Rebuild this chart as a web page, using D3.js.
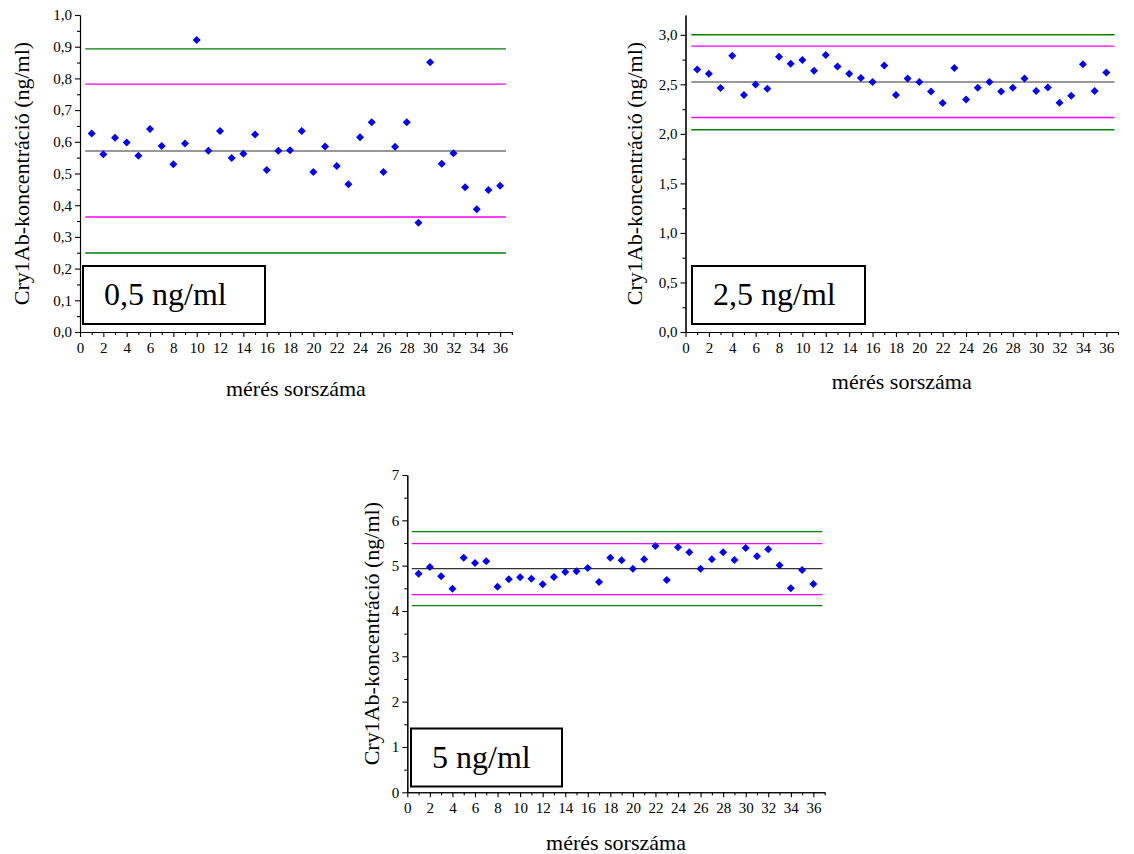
<!DOCTYPE html>
<meta charset="utf-8">
<script src="https://d3js.org/d3.v7.min.js"></script>
<style>
  body { margin: 0; background: #fff; }
  svg text { font-family: "Liberation Serif", Tinos, "Times New Roman", Times, "DejaVu Serif", serif; fill: #000; }
  .axis path, .axis line { stroke: #000; stroke-width: 1.1px; }
  .axis text { font-size: 15px; }
</style>
<div id="chart"></div>
<script>
  // measurement number (mérés sorszáma)
  var runs = [1, 2, 3, 4, 5, 6, 7, 8, 9, 10, 11, 12, 13, 14, 15, 16, 17, 18,
              19, 20, 21, 22, 23, 24, 25, 26, 27, 28, 29, 30, 31, 32, 33, 34, 35, 36];

  // measured Cry1Ab concentration, ng/ml
  var values05 = [0.626, 0.561, 0.613, 0.598, 0.556, 0.640, 0.587, 0.529, 0.595, 0.921,
                  0.572, 0.634, 0.549, 0.562, 0.623, 0.511, 0.572, 0.573, 0.634, 0.505,
                  0.585, 0.524, 0.466, 0.614, 0.662, 0.505, 0.584, 0.662, 0.345, 0.851,
                  0.531, 0.564, 0.457, 0.387, 0.448, 0.461];
  var values25 = [2.650, 2.607, 2.462, 2.788, 2.392, 2.499, 2.455, 2.778, 2.708, 2.745,
                  2.637, 2.795, 2.681, 2.607, 2.563, 2.523, 2.691, 2.392, 2.560, 2.523,
                  2.429, 2.311, 2.664, 2.348, 2.466, 2.523, 2.429, 2.466, 2.560, 2.432,
                  2.469, 2.314, 2.385, 2.704, 2.432, 2.620];
  var values5 = [4.824, 4.971, 4.765, 4.493, 5.176, 5.059, 5.096, 4.537, 4.699, 4.743,
                 4.713, 4.588, 4.750, 4.860, 4.875, 4.949, 4.640, 5.176, 5.118, 4.934,
                 5.140, 5.434, 4.684, 5.404, 5.294, 4.934, 5.140, 5.294, 5.125, 5.390,
                 5.206, 5.360, 5.007, 4.500, 4.904, 4.596];

  // control lines: [lower green, lower magenta, mean, upper magenta, upper green]
  var limits05 = [0.249, 0.363, 0.571, 0.782, 0.893];
  var limits25 = [2.042, 2.166, 2.523, 2.886, 3.000];
  var limits5 = [4.118, 4.360, 4.934, 5.485, 5.750];
  var limitColors = ["#008000", "#ff00ff", "#333333", "#ff00ff", "#008000"];

  var labels = ["0,5 ng/ml", "2,5 ng/ml", "5 ng/ml"];
  var xTitle = "mérés sorszáma";
  var yTitle = "Cry1Ab-koncentráció (ng/ml)";

  var svg = d3.select("#chart").append("svg")
    .attr("width", 1134)
    .attr("height", 854);

  var fmt = function (d) { return d.toString().replace(".", ","); };

  var panels = [
    { left: 80, top: 15, bottom: 332, xPx: 11.67, yMax: 1.0, yMajor: 0.1, yDec: 1,
      values: values05, limits: limits05, label: labels[0],
      lineX: [0.45, 36.5], box: [83, 266, 182, 58], textX: 104, textY: 305,
      yTitleX: 21, xTitleY: 388 },
    { left: 685.5, top: 15, bottom: 332, xPx: 11.69, yMax: 3.2, yMajor: 0.5, yDec: 1,
      values: values25, limits: limits25, label: labels[1],
      lineX: [0.5, 36.7], box: [692, 266, 173, 58], textX: 713, textY: 305,
      yTitleX: 634, xTitleY: 381 },
    { left: 407.3, top: 475, bottom: 792.3, xPx: 11.28, yMax: 7, yMajor: 1, yDec: 0,
      values: values5, limits: limits5, label: labels[2],
      lineX: [0.4, 36.8], box: [411, 728.5, 151, 58], textX: 432, textY: 768,
      yTitleX: 371, xTitleY: 842 }
  ];

  panels.forEach(function (p) {
    var x = d3.scaleLinear().domain([0, 37]).range([p.left, p.left + 37 * p.xPx]);
    var y = d3.scaleLinear().domain([0, p.yMax]).range([p.bottom, p.top]);
    var g = svg.append("g");

    // minor ticks first
    var xMinor = d3.range(1, 38, 2);
    g.append("g").attr("class", "axis")
      .attr("transform", "translate(0," + p.bottom + ")")
      .call(d3.axisBottom(x).tickValues(xMinor).tickSize(3).tickFormat("").tickSizeOuter(0));
    var yMinor = d3.range(p.yMajor / 2, p.yMax, p.yMajor).map(function (d) { return +d.toFixed(3); });
    g.append("g").attr("class", "axis")
      .attr("transform", "translate(" + p.left + ",0)")
      .call(d3.axisLeft(y).tickValues(yMinor).tickSize(3).tickFormat("").tickSizeOuter(0));

    // major ticks
    g.append("g").attr("class", "axis")
      .attr("transform", "translate(0," + p.bottom + ")")
      .call(d3.axisBottom(x).tickValues(d3.range(0, 37, 2)).tickSize(5).tickPadding(5).tickSizeOuter(0));
    var yMajorTicks = d3.range(0, p.yMax + 1e-9, p.yMajor).map(function (d) { return +d.toFixed(3); });
    g.append("g").attr("class", "axis")
      .attr("transform", "translate(" + p.left + ",0)")
      .call(d3.axisLeft(y).tickValues(yMajorTicks).tickSize(5).tickPadding(3).tickSizeOuter(0)
        .tickFormat(function (d) { return fmt(d.toFixed(p.yDec)); }));

    // d3 sets a sans-serif family on axis groups; drop it so the serif face applies
    g.selectAll(".axis").attr("font-family", null).attr("font-size", null);

    // control lines
    p.limits.forEach(function (v, i) {
      g.append("line")
        .attr("x1", x(p.lineX[0])).attr("x2", x(p.lineX[1]))
        .attr("y1", y(v)).attr("y2", y(v))
        .attr("stroke", limitColors[i])
        .attr("stroke-width", i === 2 ? 1.1 : 1.4);
    });

    // points
    var diamond = d3.symbol().type(d3.symbolSquare).size(32);
    g.selectAll(".pt").data(p.values).enter().append("path")
      .attr("class", "pt")
      .attr("d", diamond)
      .attr("fill", "#0000ff")
      .attr("transform", function (d, i) {
        return "translate(" + x(runs[i]) + "," + y(d) + ") rotate(45)";
      });

    // label box
    g.append("rect")
      .attr("x", p.box[0]).attr("y", p.box[1])
      .attr("width", p.box[2]).attr("height", p.box[3])
      .attr("fill", "#fff").attr("stroke", "#000").attr("stroke-width", 2);
    g.append("text")
      .attr("x", p.textX).attr("y", p.textY)
      .style("font-size", "32px")
      .text(p.label);

    // titles
    g.append("text")
      .attr("transform", "translate(" + p.yTitleX + "," + (p.top + p.bottom) / 2 + ") rotate(-90)")
      .attr("text-anchor", "middle")
      .attr("dy", "0.35em")
      .style("font-size", "22px")
      .text(yTitle);
    g.append("text")
      .attr("x", x(18.5))
      .attr("y", p.xTitleY)
      .attr("text-anchor", "middle")
      .attr("dy", "0.35em")
      .style("font-size", "22px")
      .text(xTitle);
  });
</script>
